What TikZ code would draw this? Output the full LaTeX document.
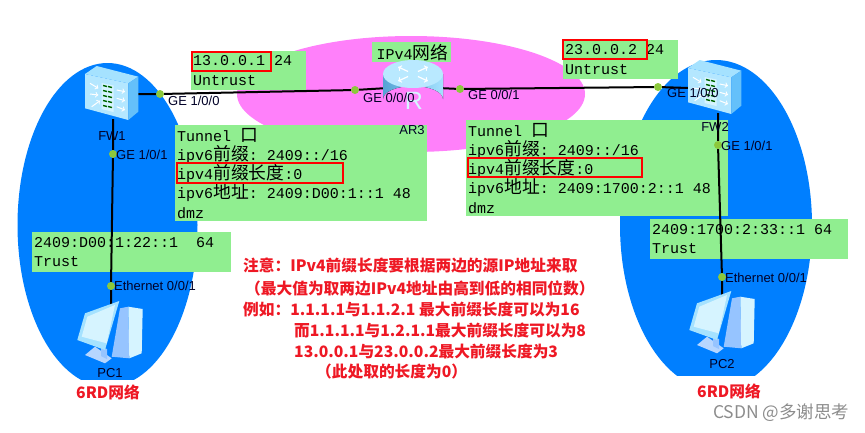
\documentclass[tikz,border=0pt]{standalone}
\usepackage{fontspec}
\setmainfont{Liberation Sans}
\setmonofont{Liberation Mono}
\newfontfamily\cjk{Noto Sans CJK SC}
\usetikzlibrary{positioning, calc}
\definecolor{netblue}{RGB}{0, 127, 255}
\definecolor{netpink}{RGB}{255, 128, 250}
\definecolor{notegreen}{RGB}{144, 238, 144}
\definecolor{notered}{RGB}{238, 24, 36}
\definecolor{portgreen}{RGB}{140, 200, 60}
\definecolor{iconlight}{RGB}{214, 244, 255}
\definecolor{iconmid}{RGB}{165, 226, 255}
\definecolor{icondark}{RGB}{100, 192, 250}
\definecolor{iconside}{RGB}{150, 196, 255}
\tikzset{
  notebox/.style={fill=notegreen, anchor=north west, inner xsep=2pt, inner ysep=0pt, align=flush left,
    font=\ttfamily\fontsize{15}{19.3}\selectfont},
  redbox/.style={draw=red, line width=1.6pt, anchor=north west, inner sep=0pt},
  port/.style={circle, inner sep=0pt, minimum size=8pt},
  link/.style={line width=2pt, black},
  devlabel/.style={font=\fontsize{13}{13}\selectfont, text=black!85!blue, inner sep=0pt},
  notetext/.style={font=\cjk\bfseries\fontsize{15.7}{16}\selectfont, text=notered, anchor=west, inner sep=0pt},
  devnode/.style={inner sep=0pt, minimum width=50pt, minimum height=50pt}
}
\newcommand{\zh}[1]{{\cjk\fontsize{17.8}{19.3}\selectfont #1}}
% firewall, drawn round its node
\newcommand{\fwicon}[1]{
  \begin{scope}[shift={(#1.center)}]
    \fill[iconmid!70!iconlight] (-26,-20) -- (17.3,-10.7) -- (17.3,26) -- (-26,14.3) -- cycle;
    \fill[iconmid] (-26,-20) -- (-14.3,-28) -- (27.3,-17.3) -- (17.3,-10.7) -- cycle;
    \fill[icondark] (17.3,-10.7) -- (27.3,-17.3) -- (27.3,17.7) -- (17.3,26) -- cycle;
    \fill[iconlight] (-9.5,-11) -- (2.5,-8.5) -- (2.5,18) -- (-9.5,15) -- cycle;
    \foreach \y in {-8,-3,2,7,12} {
      \draw[black!60!green, line width=1.4pt] (-8,\y-0.5) -- (-4,\y+0.5);
      \draw[black!60!green, line width=1.4pt] (-3,\y+0.5) -- (1,\y+1.5);
    }
    \draw[white, line width=1pt, ->] (-21,-10.7) -- (-12.7,-5.7);
    \draw[white, line width=1pt, ->] (-21,0) -- (-12.7,1);
    \draw[white, line width=1pt, ->] (-19.3,12.7) -- (-11,6.7);
    \draw[white, line width=1pt, ->] (5.7,-4) -- (14,-2.3);
    \draw[white, line width=1pt, ->] (5.7,4.3) -- (14,6.7);
    \draw[white, line width=1pt, ->] (5.7,12.7) -- (14,16);
  \end{scope}
}
% router
\newcommand{\routericon}[1]{
  \begin{scope}[shift={(#1.center)}]
    \fill[left color=icondark!85!black, right color=iconmid] (-30,-14) -- (-30,11) arc[start angle=180, end angle=360, x radius=30, y radius=13] -- (30,-14) -- cycle;
    \fill[iconmid!60!iconlight] (0,-14) ellipse[x radius=30, y radius=14];
    \foreach \a in {45,135,225,315} {
      \draw[white, line width=1.2pt, ->] ($(0,-14)+(\a:7 and 3.5)$) -- ($(0,-14)+(\a:21 and 10)$);
    }
  \end{scope}
}
% computer
\newcommand{\pcicon}[1]{
  \begin{scope}[shift={(#1.center)}]
    \fill[iconside] (10,-22.7) -- (18.3,-24.3) -- (19.3,27.3) -- (1.7,25.7) -- cycle;
    \fill[iconlight] (18.3,-24.3) -- (32.7,-22) -- (31.7,22.3) -- (19.3,27.3) -- cycle;
    \fill[iconside!70!white] (-25,24) -- (-15,15.7) -- (1.7,27.3) -- (-5,32.3) -- cycle;
    \fill[iconside] (-9,16) -- (-3,18) -- (-3,28) -- (-9,25) -- cycle;
    \fill[iconmid] (9.3,-30) -- (-25,-17.7) -- (-32.7,9) -- (-5,19) -- cycle;
    \fill[iconlight] (-22.7,-14.3) -- (5,-26) -- (-3.3,12.3) -- (-28.3,5.7) -- cycle;
  \end{scope}
}

\begin{document}
\begin{tikzpicture}[x=1pt, y=-1pt]
\useasboundingbox (0,0) rectangle (865,432);
% network areas
\begin{scope}
  \clip (0,0) rectangle (865,379);
  \fill[netblue] (107.5,225) ellipse[x radius=90, y radius=162];
\end{scope}
\begin{scope}
  \clip (0,0) rectangle (865,375);
  \fill[netblue] (716,225) ellipse[x radius=96, y radius=165];
\end{scope}
\fill[netpink] (411,94) ellipse[x radius=174, y radius=58];

% green notes
\node[notebox, minimum width=115pt, minimum height=39pt, text width=111pt] (untrustL) at (191,51)
  {13.0.0.1 24\\Untrust};
\node[notebox, minimum width=79pt, minimum height=20pt, text width=75pt] (ipvfour) at (372,42)
  {\,IPv4\zh{网络}};
\node[notebox, minimum width=115pt, minimum height=39pt, text width=111pt] (untrustR) at (563,40)
  {23.0.0.2 24\\Untrust};
\node[notebox, minimum width=252pt, minimum height=96pt, text width=248pt] (tunnelL) at (175,125)
  {Tunnel \zh{口}\\ipv6\zh{前缀}: 2409::/16\\ipv4\zh{前缀长度}:0\\ipv6\zh{地址}: 2409:D00:1::1 48\\dmz};
\node[notebox, minimum width=262pt, minimum height=96pt, text width=258pt] (tunnelR) at (466,120)
  {Tunnel \zh{口}\\ipv6\zh{前缀}: 2409::/16\\ipv4\zh{前缀长度}:0\\ipv6\zh{地址}: 2409:1700:2::1 48\\dmz};
\node[notebox, minimum width=199pt, minimum height=40pt, text width=195pt] (trustL) at (32,232)
  {2409:D00:1:22::1\ \ 64\\Trust};
\node[notebox, minimum width=198pt, minimum height=40pt, text width=194pt] (trustR) at (650,219)
  {2409:1700:2:33::1 64\\Trust};

% devices
\node[devnode] (FW1) at (111,94) {};
\node[devnode] (AR3) at (413,88) {};
\node[devnode] (FW2) at (714,88) {};
\node[devnode] (PC1) at (110,331) {};
\node[devnode] (PC2) at (722,321) {};

% ports
\node[port] (fwonetop) at (160,94) {};
\node[port] (arleft) at (355,90) {};
\node[port] (arright) at (460,89) {};
\node[port] (fwtwotop) at (658,87) {};
\node[port] (fwonedown) at (113,154) {};
\node[port] (pconeup) at (111,286) {};
\node[port] (fwtwodown) at (718,145) {};
\node[port] (pctwoup) at (722,277) {};

% links
\draw[link] (FW1.east) -- (fwonetop) -- (arleft) -- (AR3.west);
\draw[link] (AR3.east) -- (arright) -- (fwtwotop) -- (FW2.west);
\draw[link] (fwonedown |- FW1.south) -- (fwonedown) -- (pconeup) -- (pconeup |- PC1.north);
\draw[link] (fwtwodown |- FW2.south) -- (fwtwodown) -- (pctwoup) -- (PC2.north);
\foreach \p in {fwonetop, arleft, arright, fwtwotop, fwonedown, pconeup, fwtwodown, pctwoup} {
  \fill[portgreen] (\p) circle[radius=4];
}

\fwicon{FW1}
\fwicon{FW2}
\routericon{AR3}
\pcicon{PC1}
\pcicon{PC2}
\node[inner sep=0pt, text=iconlight, font=\fontsize{25}{25}\selectfont] (routerR) at (414,101) {R};

% red frames
\node[redbox, minimum width=79pt, minimum height=19pt] (frameA) at (191,51) {};
\node[redbox, minimum width=84pt, minimum height=19pt] (frameB) at (562,39) {};
\node[redbox, minimum width=166pt, minimum height=20pt] (frameC) at (176,162) {};
\node[redbox, minimum width=174pt, minimum height=19pt] (frameD) at (467,157) {};

% port and device labels
\node[devlabel, anchor=west] (lbla) at (168,101) {GE 1/0/0};
\node[devlabel, anchor=west] (lblb) at (363,98) {GE 0/0/0};
\node[devlabel, anchor=west] (lblc) at (468,95) {GE 0/0/1};
\node[devlabel, anchor=west] (lbld) at (667,93) {GE 1/0/0};
\node[devlabel, anchor=west] (lble) at (116,155) {GE 1/0/1};
\node[devlabel, anchor=west] (lblf) at (721,146) {GE 1/0/1};
\node[devlabel, anchor=west] (lblg) at (114,286) {Ethernet 0/0/1};
\node[devlabel, anchor=west] (lblh) at (725,278) {Ethernet 0/0/1};
\node[devlabel] (nameFW1) at (112,136) {FW1};
\node[devlabel] (nameFW2) at (715,127) {FW2};
\node[devlabel] (nameAR3) at (412,130) {AR3};
\node[devlabel] (namePC1) at (110,373) {PC1};
\node[devlabel] (namePC2) at (722,364) {PC2};

% remark
\node[notetext] (rema) at (243,266) {注意：IPv4前缀长度要根据两边的源IP地址来取};
\node[notetext] (remb) at (245,288) {（最大值为取两边IPv4地址由高到低的相同位数）};
\node[notetext] (remc) at (243,309) {例如：1.1.1.1与1.1.2.1 最大前缀长度可以为16};
\node[notetext] (remd) at (294,330) {而1.1.1.1与1.2.1.1最大前缀长度可以为8};
\node[notetext] (reme) at (294,351) {13.0.0.1与23.0.0.2最大前缀长度为3};
\node[notetext] (remf) at (316,372) {（此处取的长度为0）};
\node[notetext] (sixrdL) at (76,392) {6RD网络};
\node[notetext] (sixrdR) at (697,391) {6RD网络};
\node[anchor=west, inner sep=0pt, text=black!45, font=\cjk\fontsize{17.5}{18}\selectfont] (mark) at (713,413) {CSDN @多谢思考};
\end{tikzpicture}
\end{document}
